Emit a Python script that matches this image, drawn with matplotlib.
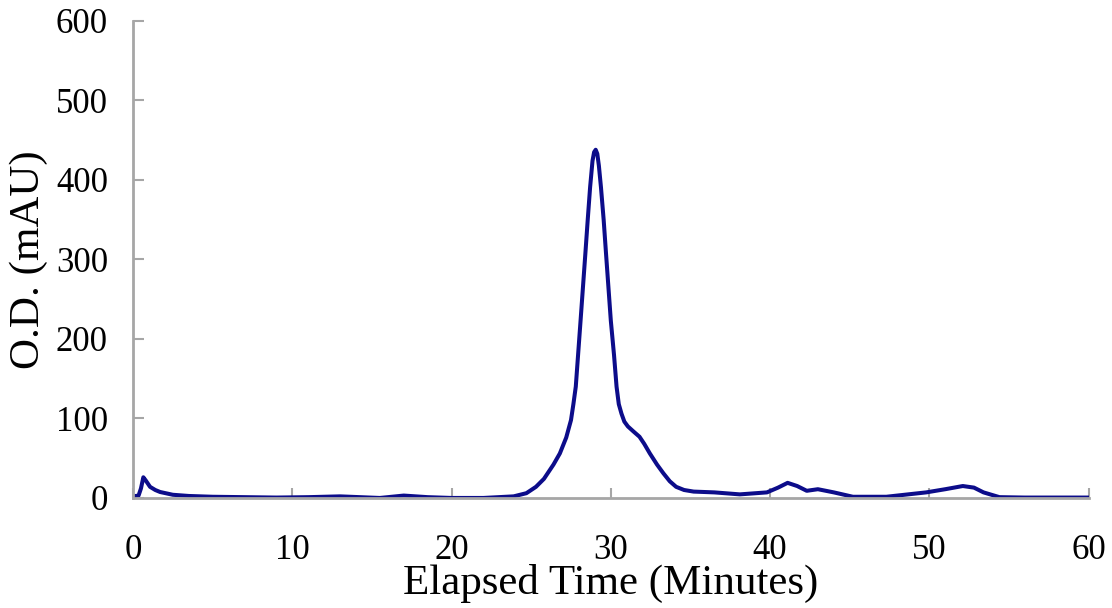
import matplotlib.pyplot as plt

# Elution profile
time_min = [0.0, 0.35, 0.5, 0.65, 0.8, 1.07, 1.4, 1.7, 2.5, 3.5, 5.0, 7.0, 9.0, 11.0, 13.0,
            15.5, 17.0, 18.5, 20.0, 22.0, 23.9, 24.7, 25.3, 25.8, 26.4, 26.8, 27.2,
            27.5, 27.65, 27.8, 28.1, 28.4, 28.55, 28.7, 28.85, 28.95, 29.05, 29.15,
            29.25, 29.38, 29.55, 29.7, 30.0, 30.2, 30.36, 30.5, 30.67, 30.85, 31.07,
            31.4, 31.8, 32.1, 32.45, 32.9, 33.3, 33.7, 34.1, 34.6, 35.2, 36.5, 38.1,
            39.8, 40.5, 41.1, 41.7, 42.3, 43.0, 44.0, 45.2, 47.3, 49.8, 51.0, 52.1,
            52.8, 53.4, 54.4, 56.0, 60.0]
od_mau = [2, 3, 12, 26, 22, 14, 10, 7.5, 4, 2.5, 1.5, 1, 0.5, 1, 2,
          0, 3, 1, 0, 0, 2, 6, 14, 24, 42, 56, 76,
          98, 118, 140, 223, 307, 350, 391, 424, 435, 438, 433,
          418, 391, 350, 307, 223, 180, 140, 118, 106, 96, 90,
          84, 77, 68, 56, 42, 31, 21, 14, 10, 8, 7, 4.5,
          7, 13, 19, 15, 9, 11, 7, 1.5, 1.5, 7, 11, 15,
          13, 7, 1, 0.5, 0.5]

plt.rcParams['font.family'] = ['Liberation Serif', 'DejaVu Serif']

fig = plt.figure(figsize=(11.12, 6.08), dpi=100)
ax = fig.add_axes([0.1196, 0.181, 0.8594, 0.7845])

ax.plot(time_min, od_mau, color='#0c0c8a', linewidth=2.9,
        solid_joinstyle='round', solid_capstyle='round')

ax.set_xlim(0, 60)
ax.set_ylim(0, 600)
ax.set_xticks(range(0, 61, 10))
ax.set_yticks(range(0, 601, 100))

for side in ['top', 'right']:
    ax.spines[side].set_visible(False)
for side in ['left', 'bottom']:
    ax.spines[side].set_color('#a6a6a6')
    ax.spines[side].set_linewidth(2)

ax.tick_params(axis='y', direction='in', length=8, width=1.5, color='#a6a6a6',
               labelsize=25, pad=18)
ax.tick_params(axis='x', direction='in', length=7, width=1.5, color='#a6a6a6',
               labelsize=25, pad=26)

ax.set_xlabel('Elapsed Time (Minutes)', fontsize=31, labelpad=-2)
ax.set_ylabel('O.D. (mAU)', fontsize=31, labelpad=6)

fig.savefig('out.png', dpi=100)
